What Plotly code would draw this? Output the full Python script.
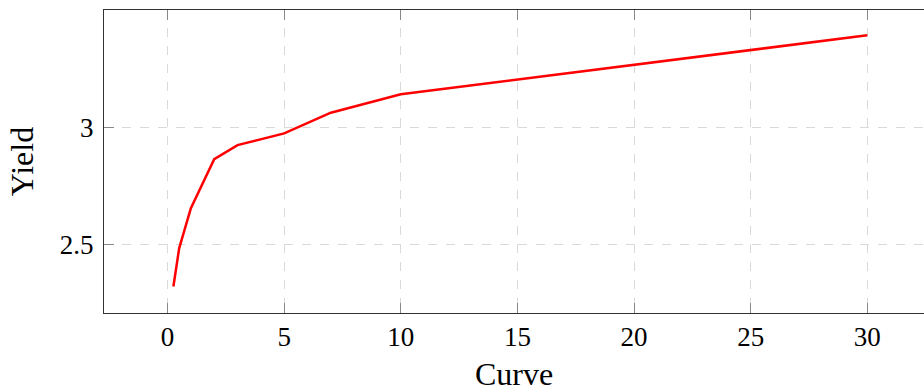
import plotly.graph_objects as go

maturity = [0.25, 0.5, 1, 2, 3, 5, 7, 10, 30]
yield_vals = [2.323, 2.487, 2.657, 2.866, 2.926, 2.976, 3.064, 3.143, 3.394]
x_ticks = [0, 5, 10, 15, 20, 25, 30]
y_ticks = [2.5, 3]
y_tick_text = ["2.5", "3"]

FONT = "Liberation Serif"

fig = go.Figure()
fig.add_trace(go.Scatter(x=maturity, y=yield_vals, mode="lines",
                         line=dict(color="#ff0000", width=2.5), showlegend=False))

fig.update_layout(
    width=924, height=392,
    margin=dict(l=104, r=0, t=10, b=79),
    plot_bgcolor="white", paper_bgcolor="white",
    font=dict(family=FONT, size=27, color="black"),
)
fig.update_xaxes(
    range=[-2.725, 32.43], tickmode="array", tickvals=x_ticks,
    ticks="inside", ticklen=10, tickcolor="#888888", tickwidth=1,
    showline=True, linecolor="#333333", linewidth=1, mirror="ticks",
    showgrid=True, gridcolor="#d9d9d9", griddash="dash", gridwidth=1,
    zeroline=False, automargin=False, title=dict(text="Curve", standoff=19),
    tickfont=dict(family=FONT, size=27),
)
fig.update_yaxes(
    range=[2.21, 3.502], tickmode="array", tickvals=y_ticks, ticktext=y_tick_text,
    ticks="inside", ticklen=10, tickcolor="#888888", tickwidth=1,
    showline=True, linecolor="#333333", linewidth=1, mirror=False,
    showgrid=True, gridcolor="#d9d9d9", griddash="dash", gridwidth=1,
    zeroline=False, automargin=False, title=dict(text="Yield", standoff=16),
    ticklabelstandoff=4,
    tickfont=dict(family=FONT, size=27),
)
fig.write_html("out.html", config={"displayModeBar": False},
               post_script="document.body.style.margin='0';document.body.style.overflow='hidden';")
